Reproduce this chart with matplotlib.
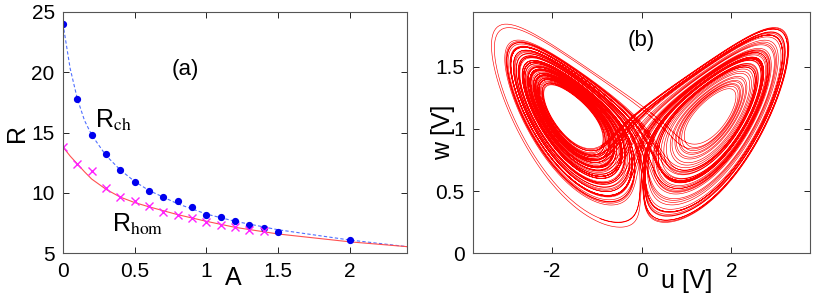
import numpy as np
import matplotlib
matplotlib.use("Agg")
import matplotlib.pyplot as plt

plt.rcParams["font.family"] = ["Liberation Sans", "DejaVu Sans"]
plt.rcParams["mathtext.fontset"] = "stix"
plt.rcParams["axes.unicode_minus"] = False

# -------------------------------------------------
# Panel (a) data
# -------------------------------------------------
A_ch = [0.0, 0.1, 0.2, 0.3, 0.4, 0.5, 0.6, 0.7, 0.8, 0.9, 1.0, 1.1, 1.2, 1.3, 1.4, 1.5, 2.0]
R_ch = [24.0, 17.8, 14.8, 13.2, 11.9, 10.9, 10.2, 9.7, 9.3, 8.8, 8.2, 8.0, 7.7, 7.35, 7.1, 6.8, 6.1]

A_hom = [0.0, 0.1, 0.2, 0.3, 0.4, 0.5, 0.6, 0.7, 0.8, 0.9, 1.0, 1.1, 1.2, 1.3, 1.4]
R_hom = [13.8, 12.4, 11.8, 10.4, 9.65, 9.3, 8.9, 8.4, 8.2, 7.9, 7.6, 7.35, 7.15, 6.95, 6.85]

# theory curves
A_curve = [0.0, 0.05, 0.1, 0.15, 0.2, 0.3, 0.4, 0.5, 0.6, 0.8, 1.0, 1.2, 1.5, 2.0, 2.4]
R_ch_curve = [24.0, 20.3, 17.8, 16.0, 14.8, 13.1, 11.9, 10.95, 10.2, 9.1, 8.25, 7.65, 6.95, 6.1, 5.55]
R_hom_curve = [13.8, 13.05, 12.4, 11.75, 11.15, 10.3, 9.65, 9.2, 8.85, 8.2, 7.65, 7.15, 6.6, 5.95, 5.55]

# -------------------------------------------------
# Panel (b): Lorenz-type circuit trajectory
# -------------------------------------------------
sigma, rho, beta = 10.0, 28.0, 8.0 / 3.0
u_scale, w_scale = 5.45, 24.5
dt, n_steps, n_skip = 0.004, 25000, 1000


def rhs(s):
    x, y, z = s
    return np.array([sigma * (y - x), x * (rho - z) - y, x * y - beta * z])


state = np.array([1.0, 1.0, 20.0])
traj = np.empty((n_steps, 3))
for i in range(n_steps + n_skip):
    k1 = rhs(state)
    k2 = rhs(state + 0.5 * dt * k1)
    k3 = rhs(state + 0.5 * dt * k2)
    k4 = rhs(state + dt * k3)
    state = state + dt / 6.0 * (k1 + 2 * k2 + 2 * k3 + k4)
    if i >= n_skip:
        traj[i - n_skip] = state

u = traj[:, 0] / u_scale
w = traj[:, 2] / w_scale

# -------------------------------------------------
# Figure
# -------------------------------------------------
fig = plt.figure(figsize=(8.3, 3.0), dpi=100)
ax1 = fig.add_axes([0.0759, 0.1557, 0.4145, 0.805])
ax2 = fig.add_axes([0.5699, 0.1557, 0.4061, 0.805])

for ax in (ax1, ax2):
    ax.tick_params(direction="in", length=4, width=0.6, top=True, right=True,
                   labelsize=15, pad=6, colors="black")
    for sp in ax.spines.values():
        sp.set_color("#555555")
        sp.set_linewidth(0.8)

# panel (a)
ax1.plot(A_curve, R_ch_curve, "--", color="#5070ff", lw=0.8, dashes=(3, 2))
ax1.plot(A_curve, R_hom_curve, "-", color="#ff5050", lw=0.8)
ax1.plot(A_ch, R_ch, "o", color="#0000ee", ms=4.2, mec="#0000ee")
ax1.plot(A_hom, R_hom, "x", color="#ff22ff", ms=6, mew=1.0)

ax1.set_xlim(0, 2.4)
ax1.set_ylim(5, 25)
ax1.set_xticks([0, 0.5, 1, 1.5, 2])
ax1.set_xticklabels(["0", "0.5", "1", "1.5", "2"])
ax1.set_yticks([5, 10, 15, 20, 25])

ax1.text(-0.134, 0.5, "R", transform=ax1.transAxes, rotation=90,
         fontsize=18, ha="center", va="center")
ax1.text(1.19, 2.95, "A", fontsize=18, ha="center", va="center", clip_on=False)
ax1.text(0.85, 20.2, "(a)", fontsize=16, ha="center", va="center")
ax1.text(0.22, 16.0, r"R$_{\mathrm{ch}}$", fontsize=18, ha="left", va="center")
ax1.text(0.34, 7.4, r"R$_{\mathrm{hom}}$", fontsize=18, ha="left", va="center")

# panel (b)
ax2.plot(u, w, color="red", lw=0.45)
ax2.set_xlim(-3.75, 3.75)
ax2.set_ylim(0, 1.94)
ax2.set_xticks([-2, 0, 2])
ax2.set_yticks([0, 0.5, 1, 1.5])
ax2.set_yticklabels(["0", "0.5", "1", "1.5"])

ax2.text(-0.09, 0.5, "w [V]", transform=ax2.transAxes, rotation=90,
         fontsize=18, ha="center", va="center")
ax2.text(1.0, -0.22, "u [V]", fontsize=18, ha="center", va="center", clip_on=False)
ax2.text(0.0, 1.71, "(b)", fontsize=16, ha="center", va="center")

fig.savefig("out.png", dpi=100)
